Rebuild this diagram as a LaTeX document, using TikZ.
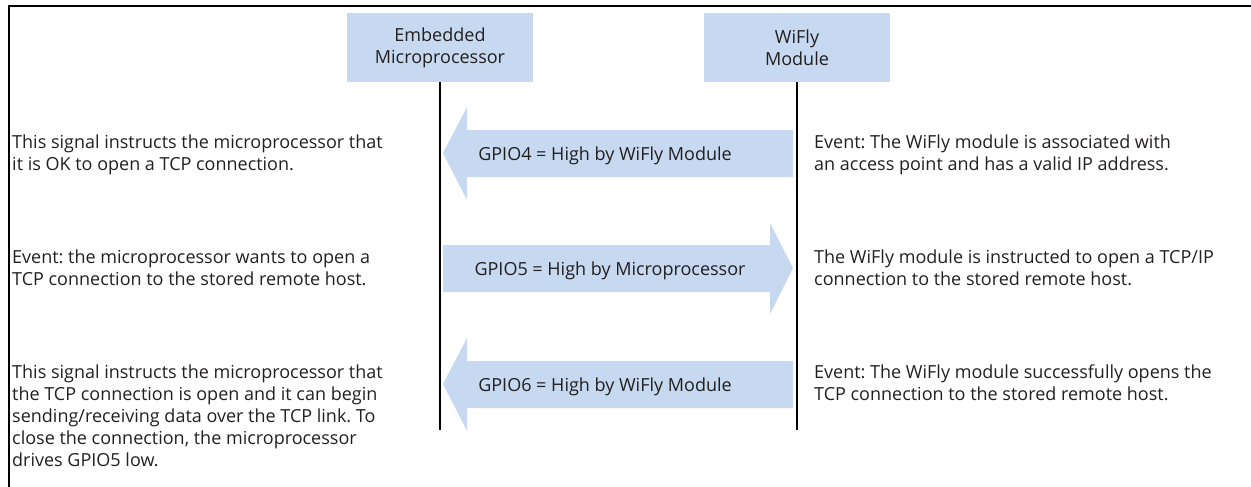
\documentclass[tikz,border=0pt]{standalone}
\usepackage{fontspec}
\setmainfont{Open Sans}
\usepackage{tikz}
\usetikzlibrary{calc, positioning}
\definecolor{boxblue}{HTML}{C6D9F0}
\definecolor{txtgray}{HTML}{231F20}
\frenchspacing
\tikzset{
  actor/.style={fill=boxblue, minimum width=186pt, minimum height=69pt, align=center, inner sep=0pt},
  note/.style={anchor=north west, align=left, inner sep=0pt},
  sig/.style={fill=boxblue},
  life/.style={line width=2pt},
}

\begin{document}
\begin{tikzpicture}[x=1pt, y=-1pt, font=\fontsize{18}{22}\selectfont, text=txtgray]
\useasboundingbox (0,0) rectangle (1251,487);
\draw[line width=2.5pt] (9,487) -- (9,6) -- (1251,6);
% the two parties
\node[actor] (emb) at (440,47.5) {Embedded\\Microprocessor};
\node[actor] (wifly) at (797,47.5) {WiFly\\Module};
\coordinate (embend) at (440,430);
\coordinate (wiflyend) at (797,430);
\draw[life] (emb.south) -- (embend);
\draw[life] (wifly.south) -- (wiflyend);
% signals
\fill[sig] (443,153) -- ++(24,-46) -- ++(0,23) -- ++(326,0) -- ++(0,47) -- ++(-326,0) -- ++(0,23) -- cycle;
\fill[sig] (793,268) -- ++(-23,-45) -- ++(0,22) -- ++(-327,0) -- ++(0,47) -- ++(327,0) -- ++(0,22) -- cycle;
\fill[sig] (443,384) -- ++(24,-46) -- ++(0,23) -- ++(326,0) -- ++(0,47) -- ++(-326,0) -- ++(0,23) -- cycle;
\node (gpio4) at (605,156) {GPIO4 = High by WiFly Module};
\node (gpio5) at (610,271) {GPIO5 = High by Microprocessor};
\node (gpio6) at (605,387) {GPIO6 = High by WiFly Module};
% what happens on each side
\node[note] (ok) at (12,135) {This signal instructs the microprocessor that\\it is OK to open a TCP connection.};
\node[note] (wants) at (12,250) {Event: the microprocessor wants to open a\\TCP connection to the stored remote host.};
\node[note] (open) at (12,365) {This signal instructs the microprocessor that\\the TCP connection is open and it can begin\\sending/receiving data over the TCP link. To\\close the connection, the microprocessor\\drives GPIO5 low.};
\node[note] (assoc) at (814,135) {Event: The WiFly module is associated with\\an access point and has a valid IP address.};
\node[note] (told) at (814,250) {The WiFly module is instructed to open a TCP/IP\\connection to the stored remote host.};
\node[note] (opens) at (814,365) {Event: The WiFly module successfully opens the\\TCP connection to the stored remote host.};
\end{tikzpicture}
\end{document}
